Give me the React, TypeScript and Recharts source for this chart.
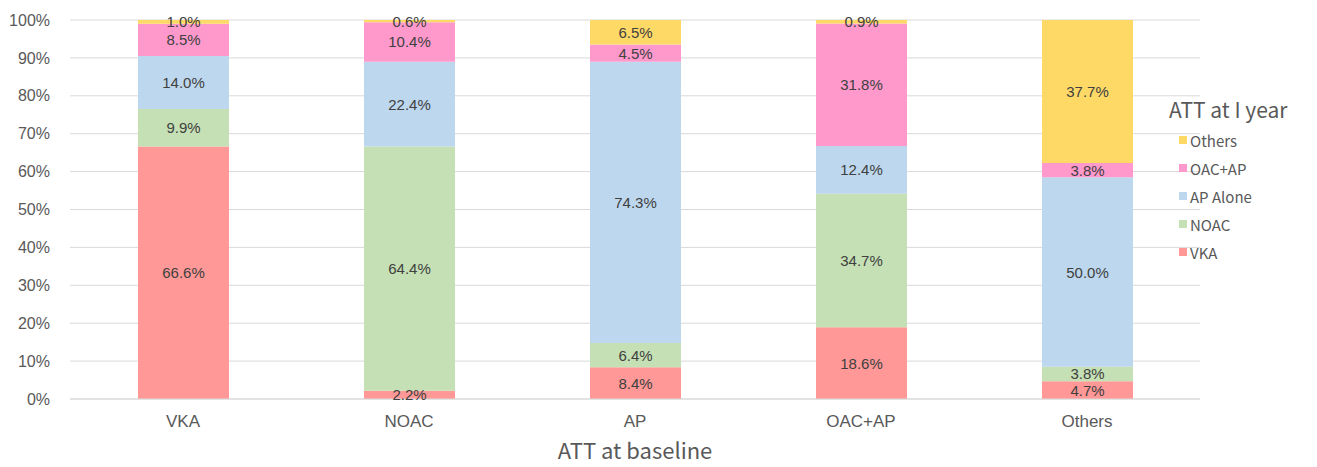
import React from "react";
import { BarChart, Bar, XAxis, YAxis, CartesianGrid, LabelList } from "recharts";

const categories = ["VKA", "NOAC", "AP", "OAC+AP", "Others"];
const vka = [66.6, 2.2, 8.4, 18.6, 4.7];
const noac = [9.9, 64.4, 6.4, 34.7, 3.8];
const apAlone = [14.0, 22.4, 74.3, 12.4, 50.0];
const oacAp = [8.5, 10.4, 4.5, 31.8, 3.8];
const others = [1.0, 0.6, 6.5, 0.9, 37.7];
const yTicks = [0, 0.1, 0.2, 0.3, 0.4, 0.5, 0.6, 0.7, 0.8, 0.9, 1];

const seriesDefs = [
  { key: "vka", name: "VKA", color: "#FF9896" },
  { key: "noac", name: "NOAC", color: "#C5E0B4" },
  { key: "apAlone", name: "AP Alone", color: "#BDD7EE" },
  { key: "oacAp", name: "OAC+AP", color: "#FF99CC" },
  { key: "others", name: "Others", color: "#FFD966" },
];

const data = categories.map((c, i) => ({
  cat: c,
  vka: vka[i],
  noac: noac[i],
  apAlone: apAlone[i],
  oacAp: oacAp[i],
  others: others[i],
}));

const labelFont = "'Liberation Sans', Arial, sans-serif";
const legendFont = "'Noto Sans CJK SC', 'Noto Sans', sans-serif";

const renderLabel = (props: any) => {
  const { x, y, width, height, value } = props;
  return (
    <text
      x={x + width / 2}
      y={y + height / 2}
      textAnchor="middle"
      dominantBaseline="central"
      fill="#404040"
      fontSize={15}
      fontFamily={labelFont}
    >
      {Number(value).toFixed(1)}%
    </text>
  );
};

const LegendBox = () => (
  <div
    style={{
      position: "absolute",
      left: 1169,
      top: 94,
      fontFamily: legendFont,
      color: "#595959",
      background: "transparent",
    }}
  >
    <div style={{ fontSize: 21, lineHeight: "30px", marginBottom: 2, whiteSpace: "nowrap" }}>ATT at I year</div>
    {[...seriesDefs].reverse().map((s) => (
      <div key={s.key} style={{ display: "flex", alignItems: "center", height: 28, paddingLeft: 10 }}>
        <span style={{ width: 8, height: 8, background: s.color, display: "inline-block", marginRight: 3 }} />
        <span style={{ fontSize: 15 }}>{s.name}</span>
      </div>
    ))}
  </div>
);

export default function App() {
  return (
    <div style={{ position: "absolute", left: 0, top: 0, width: 1317, height: 467, background: "#fff" }}>
      <BarChart
        width={1317}
        height={467}
        data={data}
        stackOffset="expand"
        margin={{ top: 20, right: 117, bottom: 8, left: 0 }}
      >
        <CartesianGrid vertical={false} stroke="#D9D9D9" />
        <XAxis
          dataKey="cat"
          tickLine={false}
          axisLine={{ stroke: "#D9D9D9" }}
          height={60}
          tickMargin={10}
          tick={{ fill: "#595959", fontSize: 17, fontFamily: labelFont }}
          label={{
            value: "ATT at baseline",
            position: "insideBottom",
            offset: 0,
            fill: "#595959",
            fontSize: 22,
            fontFamily: legendFont,
          }}
        />
        <YAxis
          width={70}
          ticks={yTicks}
          domain={[0, 1]}
          interval={0}
          tickLine={false}
          axisLine={false}
          tickMargin={14}
          tickFormatter={(v: number) => `${Math.round(v * 100)}%`}
          tick={{ fill: "#595959", fontSize: 16, fontFamily: labelFont }}
        />
        {seriesDefs.map((s) => (
          <Bar
            key={s.key}
            dataKey={s.key}
            name={s.name}
            stackId="a"
            fill={s.color}
            barSize={91}
            isAnimationActive={false}
          >
            <LabelList dataKey={s.key} content={renderLabel} />
          </Bar>
        ))}
      </BarChart>
      <LegendBox />
    </div>
  );
}
